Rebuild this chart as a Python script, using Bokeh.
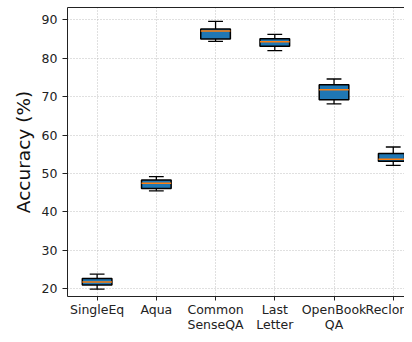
from bokeh.plotting import figure
from bokeh.models import ColumnDataSource, Range1d, FixedTicker, LinearAxis
from bokeh.transform import dodge
from bokeh.embed import file_html
from bokeh.resources import INLINE

categories = ["SingleEq", "Aqua", "CommonSenseQA", "LastLetter", "OpenBookQA", "Reclor"]
tick_labels = ["SingleEq", "Aqua", "Common\nSenseQA", "Last\nLetter", "OpenBook\nQA", "Reclor"]
whisker_low = [19.9, 45.5, 84.4, 82.0, 68.1, 52.1]
q1 = [21.0, 46.1, 85.0, 83.1, 69.2, 53.2]
median = [21.8, 47.5, 87.1, 84.3, 71.8, 53.7]
q3 = [22.7, 48.3, 87.6, 85.1, 73.1, 55.2]
whisker_high = [23.8, 49.2, 89.6, 86.2, 74.6, 56.9]
y_ticks = [20, 30, 40, 50, 60, 70, 80, 90]

positions = list(range(1, len(categories) + 1))
src = ColumnDataSource(dict(x=positions, lo=whisker_low, q1=q1, med=median, q3=q3, hi=whisker_high))

FONT = "DejaVu Sans"

p = figure(width=404, height=334, output_backend="svg", toolbar_location=None,
           x_range=Range1d(0.5, 6.19), y_range=Range1d(18.0, 93.2),
           min_border_left=67, min_border_right=0, min_border_top=7, min_border_bottom=34,
           x_axis_location="below")
p.outline_line_color = None
p.background_fill_color = "white"
p.border_fill_color = "white"

# grid
p.xgrid.ticker = FixedTicker(ticks=positions)
p.ygrid.ticker = FixedTicker(ticks=y_ticks)
for g in (p.xgrid, p.ygrid):
    g.grid_line_color = "#b0b0b0"
    g.grid_line_width = 0.8
    g.grid_line_dash = "1 2"

# axes
xa = p.xaxis[0]
xa.ticker = FixedTicker(ticks=positions)
xa.major_label_overrides = {pos: lab for pos, lab in zip(positions, tick_labels)}
ya = p.yaxis[0]
ya.ticker = FixedTicker(ticks=y_ticks)
ya.axis_label = "Accuracy (%)"
ya.axis_label_text_font = FONT
ya.axis_label_text_font_size = "18.5px"
ya.axis_label_text_font_style = "normal"
ya.axis_label_text_color = "#111111"
ya.axis_label_standoff = 5
for ax in (xa, ya):
    ax.major_label_text_font = FONT
    ax.major_label_text_font_size = "12.5px"
    ax.major_label_text_color = "#222222"
    ax.major_tick_in = 0
    ax.minor_tick_line_color = None
    ax.major_tick_line_color = "#222222"
    ax.axis_line_color = "#222222"
    ax.axis_line_width = 1
ya.major_tick_out = 5
xa.major_tick_out = 4
ya.major_label_standoff = 5
xa.major_label_standoff = 1
xa.major_label_text_line_height = 1.0

top = LinearAxis(ticker=FixedTicker(ticks=[]), major_tick_out=0, major_tick_in=0,
                 major_label_standoff=0, minor_tick_line_color=None,
                 axis_line_color="#222222", axis_line_width=1,
                 major_label_text_font_size="0px")
p.add_layout(top, "above")

# whiskers
p.segment(x0="x", y0="q3", x1="x", y1="hi", source=src, line_color="black", line_width=1.3)
p.segment(x0="x", y0="q1", x1="x", y1="lo", source=src, line_color="black", line_width=1.3)
# caps
p.segment(x0=dodge("x", -0.125), y0="hi", x1=dodge("x", 0.125), y1="hi", source=src,
          line_color="black", line_width=1.3)
p.segment(x0=dodge("x", -0.125), y0="lo", x1=dodge("x", 0.125), y1="lo", source=src,
          line_color="black", line_width=1.3)
# boxes
p.vbar(x="x", width=0.5, top="q3", bottom="q1", source=src,
       fill_color="#1f77b4", line_color="black", line_width=1.5)
# medians
p.segment(x0=dodge("x", -0.25), y0="med", x1=dodge("x", 0.25), y1="med", source=src,
          line_color="#ff7f0e", line_width=1.5)

open("out.html", "w").write(file_html(p, INLINE))
